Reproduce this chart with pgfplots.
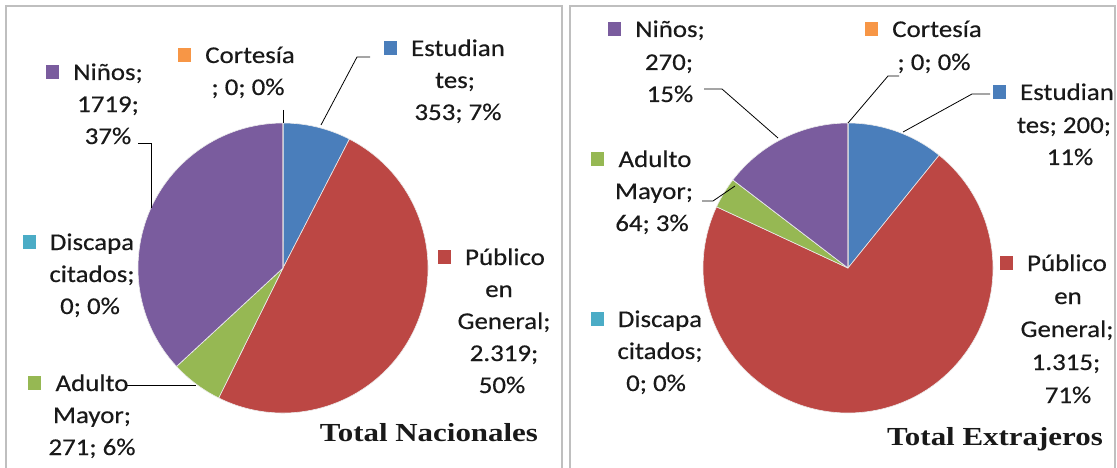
\documentclass[border=0pt]{standalone}
\usepackage{pgfplots}
\pgfplotsset{compat=1.18}
\usepackage{pgfplotstable}
\usepackage{fontspec}
\setmainfont{Carlito}
\newfontfamily\lblfont{Carlito}[FakeStretch=1.12, FakeBold=0.4]
\newfontfamily\titlefont{Liberation Serif}[FakeStretch=1.19]

\definecolor{cblu}{HTML}{4A7EBB}
\definecolor{cred}{HTML}{BC4744}
\definecolor{cgre}{HTML}{96B853}
\definecolor{ctea}{HTML}{4BACC6}
\definecolor{cpur}{HTML}{7A5C9E}
\definecolor{cora}{HTML}{F79646}

% order: clockwise from the top
\pgfplotstableread{
cat value
Estudiantes 353
Publico 2319
Adulto 271
Discapacitados 0
Ninos 1719
Cortesia 0
}\nacionales

\pgfplotstableread{
cat value
Estudiantes 200
Publico 1315
Adulto 64
Discapacitados 0
Ninos 270
Cortesia 0
}\extranjeros

\newcommand\pieangles[2]{%
  \xdef\pietot{0}%
  \foreach \i in {0,...,5}{%
    \pgfplotstablegetelem{\i}{value}\of{#1}%
    \pgfmathparse{\pietot+\pgfplotsretval}%
    \xdef\pietot{\pgfmathresult}%
  }%
  \xdef\pieang{90}%
  \expandafter\xdef\csname #2A\endcsname{90}%
  \foreach \i/\b in {0/B,1/C,2/D,3/E,4/F,5/G}{%
    \pgfplotstablegetelem{\i}{value}\of{#1}%
    \pgfmathparse{\pieang-360*(\pgfplotsretval/\pietot)}%
    \xdef\pieang{\pgfmathresult}%
    \expandafter\xdef\csname #2\b\endcsname{\pieang}%
  }%
}

\newcommand\slice[5]{%
  \fill[#1, draw=white!85!gray, line width=0.6pt, line join=round]
    (axis cs:#2,#3) -- ++(#4:145pt) arc[start angle=#4, end angle=#5, radius=145pt] -- cycle;}

\newcommand\keylab[4]{%
  \node[anchor=base, inner sep=0pt] (kl) at (#2,#3) {#4};
  \fill[#1] ([xshift=-14pt,yshift=1pt]kl.base west) rectangle ++(-13pt,14pt);}
\newcommand\lab[3]{\node[anchor=base, inner sep=0pt] at (#1,#2) {#3};}

\begin{document}
\begin{tikzpicture}
\clip (0,0) rectangle (1117pt,467pt);
\pieangles{\nacionales}{pieN}
\pieangles{\extranjeros}{pieE}
\begin{axis}[at={(0pt,0pt)}, anchor=south west, x=1pt, y=1pt,
  xmin=0, xmax=1117, ymin=0, ymax=467, hide axis, clip=false]
\slice{cblu}{283}{199}{\pieNA}{\pieNB}
\slice{cred}{283}{199}{\pieNB}{\pieNC}
\slice{cgre}{283}{199}{\pieNC}{\pieND}
\slice{ctea}{283}{199}{\pieND}{\pieNE}
\slice{cpur}{283}{199}{\pieNE}{\pieNF}
\slice{cora}{283}{199}{\pieNF}{\pieNG}
\slice{cblu}{848}{199}{\pieEA}{\pieEB}
\slice{cred}{848}{199}{\pieEB}{\pieEC}
\slice{cgre}{848}{199}{\pieEC}{\pieED}
\slice{ctea}{848}{199}{\pieED}{\pieEE}
\slice{cpur}{848}{199}{\pieEE}{\pieEF}
\slice{cora}{848}{199}{\pieEF}{\pieEG}
\end{axis}
\begin{scope}[shift={(0pt,467pt)}, x=1pt, y=-1pt,
  every node/.style={font=\lblfont\fontsize{24}{30}\selectfont, text=black!90}]
\draw[gray!50, line width=1.4pt] (6,6) rectangle (562,480);
\draw[gray!50, line width=1.4pt] (570,6) rectangle (1115,480);
% leaders
\draw[black, line width=0.8pt] (370,57) -- (357,57) -- (321,125);
\draw[black, line width=0.8pt] (283,110) -- (283,123);
\draw[black, line width=0.8pt] (138,143) -- (151,143) -- (151,208);
\draw[black, line width=0.8pt] (127,385) -- (196,385);
\draw[black, line width=0.8pt] (704,89) -- (722,89) -- (778,138);
\draw[black, line width=0.8pt] (899,76) -- (888,76) -- (848,123);
\draw[black, line width=0.8pt] (990,94) -- (972,94) -- (903,132);
\draw[black, line width=0.8pt] (702,201) -- (713,201) -- (735,186);
% left labels
\keylab{cpur}{108}{80}{Niños;} \lab{108}{112}{1719;} \lab{108}{144}{37\%}
\keylab{cora}{250}{63}{Cortesía} \lab{248}{95}{; 0; 0\%}
\keylab{cblu}{458}{56}{Estudian} \lab{455}{88}{tes;} \lab{458}{120}{353; 7\%}
\keylab{ctea}{92}{250}{Discapa} \lab{92}{282}{citados;} \lab{90}{314}{0; 0\%}
\keylab{cred}{505}{265}{Público} \lab{499}{297}{en} \lab{504}{329}{General;} \lab{504}{361}{2.319;} \lab{502}{393}{50\%}
\keylab{cgre}{92}{391}{Adulto} \lab{92}{423}{Mayor;} \lab{92}{455}{271; 6\%}
% right labels
\keylab{cpur}{670}{37}{Niños;} \lab{669}{70}{270;} \lab{670}{102}{15\%}
\keylab{cora}{937}{37}{Cortesía} \lab{934}{70}{; 0; 0\%}
\keylab{cblu}{1067}{100}{Estudian} \lab{1064}{133}{tes; 200;} \lab{1070}{165}{11\%}
\keylab{cgre}{655}{167}{Adulto} \lab{654}{199}{Mayor;} \lab{652}{231}{64; 3\%}
\keylab{ctea}{660}{327}{Discapa} \lab{660}{359}{citados;} \lab{656}{391}{0; 0\%}
\keylab{cred}{1067}{271}{Público} \lab{1068}{304}{en} \lab{1067}{337}{General;} \lab{1066}{370}{1.315;} \lab{1068}{403}{71\%}
% titles
\node[anchor=base, inner sep=0pt, font=\titlefont\bfseries\fontsize{26}{30}\selectfont] at (429,441) {Total Nacionales};
\node[anchor=base, inner sep=0pt, font=\titlefont\bfseries\fontsize{26}{30}\selectfont] at (995,445) {Total Extrajeros};
\end{scope}
\end{tikzpicture}
\end{document}
